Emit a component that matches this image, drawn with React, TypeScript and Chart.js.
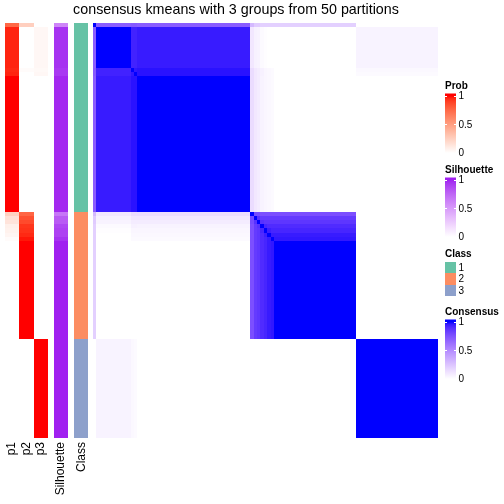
import React, { useEffect, useRef } from "react";
import { Chart, registerables } from "chart.js";

Chart.register(...registerables);

// ---------- DATA ----------
const TITLE = "consensus kmeans with 3 groups from 50 partitions";
// sample groups in display order (rows == columns)
const GROUP_NAMES = ["A0", "A1", "A2a", "A2b", "A3", "B0", "B1", "B2", "B3", "B4", "B5", "B6", "Bc", "C"];
const GROUP_SIZES = [1, 10, 1, 1, 33, 1, 1, 1, 1, 1, 1, 1, 24, 24];
const GROUP_CLASS = [1, 1, 1, 1, 1, 2, 2, 2, 2, 2, 2, 2, 2, 3];
const PROB_P1 = [0.75, 0.96, 0.95, 0.96, 1, 0.24, 0.16, 0.14, 0.08, 0.07, 0.05, 0.02, 0, 0];
const PROB_P2 = [0.25, 0, 0.02, 0, 0, 0.76, 0.84, 0.86, 0.92, 0.93, 0.95, 0.98, 1, 0];
const PROB_P3 = [0, 0.04, 0.03, 0.04, 0, 0, 0, 0, 0, 0, 0, 0, 0, 1];
const SILHOUETTE = [0.6, 0.95, 0.93, 0.93, 0.98, 0.68, 0.8, 0.8, 0.88, 0.9, 0.9, 0.95, 1, 1];
const CONSENSUS_A0 = [1, 0.7, 0.72, 0.72, 0.7, 0.3, 0.22, 0.22, 0.2, 0.2, 0.2, 0.2, 0.2, 0];
const CONSENSUS_A1 = [0.7, 1, 0.93, 0.93, 0.95, 0.1, 0.06, 0.05, 0.02, 0.01, 0, 0, 0, 0.05];
const CONSENSUS_A2a = [0.72, 0.93, 1, 0.96, 0.97, 0.15, 0.1, 0.08, 0.06, 0.04, 0.03, 0.02, 0, 0.03];
const CONSENSUS_A2b = [0.72, 0.93, 0.96, 1, 0.97, 0.15, 0.1, 0.08, 0.06, 0.04, 0.03, 0.02, 0, 0.02];
const CONSENSUS_A3 = [0.7, 0.95, 0.97, 0.97, 1, 0.15, 0.1, 0.08, 0.05, 0.04, 0.03, 0.02, 0, 0];
const CONSENSUS_B0 = [0.3, 0.1, 0.15, 0.15, 0.15, 1, 0.78, 0.78, 0.76, 0.76, 0.76, 0.76, 0.76, 0];
const CONSENSUS_B1 = [0.22, 0.06, 0.1, 0.1, 0.1, 0.78, 1, 0.88, 0.84, 0.84, 0.84, 0.84, 0.84, 0];
const CONSENSUS_B2 = [0.22, 0.05, 0.08, 0.08, 0.08, 0.78, 0.88, 1, 0.88, 0.86, 0.86, 0.86, 0.86, 0];
const CONSENSUS_B3 = [0.2, 0.02, 0.06, 0.06, 0.05, 0.76, 0.84, 0.88, 1, 0.92, 0.9, 0.9, 0.9, 0];
const CONSENSUS_B4 = [0.2, 0.01, 0.04, 0.04, 0.04, 0.76, 0.84, 0.86, 0.92, 1, 0.94, 0.92, 0.92, 0];
const CONSENSUS_B5 = [0.2, 0, 0.03, 0.03, 0.03, 0.76, 0.84, 0.86, 0.9, 0.94, 1, 0.95, 0.95, 0];
const CONSENSUS_B6 = [0.2, 0, 0.02, 0.02, 0.02, 0.76, 0.84, 0.86, 0.9, 0.92, 0.95, 1, 0.96, 0];
const CONSENSUS_Bc = [0.2, 0, 0, 0, 0, 0.76, 0.84, 0.86, 0.9, 0.92, 0.95, 0.96, 1, 0];
const CONSENSUS_C = [0, 0.05, 0.03, 0.02, 0, 0, 0, 0, 0, 0, 0, 0, 0, 1];
const CONSENSUS = [
  CONSENSUS_A0, CONSENSUS_A1, CONSENSUS_A2a, CONSENSUS_A2b, CONSENSUS_A3,
  CONSENSUS_B0, CONSENSUS_B1, CONSENSUS_B2, CONSENSUS_B3, CONSENSUS_B4,
  CONSENSUS_B5, CONSENSUS_B6, CONSENSUS_Bc, CONSENSUS_C,
];
const TRACK_LABELS = ["p1", "p2", "p3", "Silhouette", "Class"];
const CLASS_LABELS = ["1", "2", "3"];
const LEGEND_TICKS = ["1", "0.5", "0"];

// ---------- STYLE / LAYOUT ----------
const CLASS_COLORS = ["#66C2A5", "#FC8D62", "#8DA0CB"];
const FONT = '"Liberation Sans", Arial, Helvetica, sans-serif';
const W = 504;
const PAD = { left: 5, right: 66, top: 23, bottom: 66 };
const MATRIX_LEFT_PX = 93;
const TRACK_WIDTH_PX = 14.33;
const TRACK_STARTS = [0, 1, 2, 3.42, 4.82];
const LEGEND_X = 445;
const LEGEND_W = 11;

// ---------- LAB colour ramp (like colorRamp2) ----------
function hexToRgb(h: string) {
  const n = parseInt(h.slice(1), 16);
  return [(n >> 16) & 255, (n >> 8) & 255, n & 255];
}
function toLin(c: number) {
  c /= 255;
  return c <= 0.04045 ? c / 12.92 : Math.pow((c + 0.055) / 1.055, 2.4);
}
function fromLin(c: number) {
  c = Math.min(1, Math.max(0, c));
  const v = c <= 0.0031308 ? 12.92 * c : 1.055 * Math.pow(c, 1 / 2.4) - 0.055;
  return Math.round(Math.min(1, Math.max(0, v)) * 255);
}
const XN = 0.95047, YN = 1, ZN = 1.08883;
function f(t: number) {
  return t > 0.008856 ? Math.cbrt(t) : 7.787 * t + 16 / 116;
}
function finv(t: number) {
  const t3 = t * t * t;
  return t3 > 0.008856 ? t3 : (t - 16 / 116) / 7.787;
}
function rgbToLab(rgb: number[]) {
  const [r, g, b] = rgb.map(toLin);
  const X = 0.4124 * r + 0.3576 * g + 0.1805 * b;
  const Y = 0.2126 * r + 0.7152 * g + 0.0722 * b;
  const Z = 0.0193 * r + 0.1192 * g + 0.9505 * b;
  const fx = f(X / XN), fy = f(Y / YN), fz = f(Z / ZN);
  return [116 * fy - 16, 500 * (fx - fy), 200 * (fy - fz)];
}
function labToRgbStr(lab: number[]) {
  const fy = (lab[0] + 16) / 116;
  const fx = fy + lab[1] / 500;
  const fz = fy - lab[2] / 200;
  const X = finv(fx) * XN, Y = finv(fy) * YN, Z = finv(fz) * ZN;
  const r = 3.2406 * X - 1.5372 * Y - 0.4986 * Z;
  const g = -0.9689 * X + 1.8758 * Y + 0.0415 * Z;
  const b = 0.0557 * X - 0.204 * Y + 1.057 * Z;
  return `rgb(${fromLin(r)},${fromLin(g)},${fromLin(b)})`;
}
function ramp(hi: string) {
  const a = rgbToLab([255, 255, 255]);
  const b = rgbToLab(hexToRgb(hi));
  return (v: number) => {
    const t = Math.min(1, Math.max(0, v));
    return labToRgbStr([a[0] + (b[0] - a[0]) * t, a[1] + (b[1] - a[1]) * t, a[2] + (b[2] - a[2]) * t]);
  };
}
const probColor = ramp("#FF0000");
const silColor = ramp("#A020F0");
const consColor = ramp("#0000FF");

// ---------- build cells ----------
function buildCells() {
  const starts: number[] = [];
  let acc = 0;
  for (const s of GROUP_SIZES) {
    starts.push(acc);
    acc += s;
  }
  const matrix: any[] = [];
  for (let i = 0; i < GROUP_SIZES.length; i++) {
    for (let j = 0; j < GROUP_SIZES.length; j++) {
      const x0 = starts[j], x1 = starts[j] + GROUP_SIZES[j];
      const y0 = starts[i], y1 = starts[i] + GROUP_SIZES[i];
      matrix.push({ x: (x0 + x1) / 2, y: (y0 + y1) / 2, x0, x1, y0, y1, color: consColor(CONSENSUS[i][j]) });
    }
  }
  const ann: any[] = [];
  const trackColors = [
    (g: number) => probColor(PROB_P1[g]),
    (g: number) => probColor(PROB_P2[g]),
    (g: number) => probColor(PROB_P3[g]),
    (g: number) => silColor(SILHOUETTE[g]),
    (g: number) => CLASS_COLORS[GROUP_CLASS[g] - 1],
  ];
  trackColors.forEach((fn, k) => {
    for (let g = 0; g < GROUP_SIZES.length; g++) {
      const x0 = TRACK_STARTS[k], x1 = TRACK_STARTS[k] + 1;
      const y0 = starts[g], y1 = starts[g] + GROUP_SIZES[g];
      ann.push({ x: (x0 + x1) / 2, y: (y0 + y1) / 2, x0, x1, y0, y1, color: fn(g) });
    }
  });
  return { matrix, ann, n: acc };
}

function drawContinuousLegend(ctx: CanvasRenderingContext2D, title: string, T: number, colorFn: (v: number) => string) {
  ctx.fillStyle = "#000";
  ctx.font = `bold 10px ${FONT}`;
  ctx.textAlign = "left";
  ctx.textBaseline = "middle";
  ctx.fillText(title, LEGEND_X, T);
  const barTop = T + 7.5;
  const barBottom = T + 67;
  const y1 = T + 9.7;
  const yOf = (v: number) => barBottom - (barBottom - y1) * v;
  const grad = ctx.createLinearGradient(0, barTop, 0, barBottom);
  grad.addColorStop(0, colorFn(1));
  for (let k = 0; k <= 20; k++) {
    const v = k / 20;
    grad.addColorStop((yOf(v) - barTop) / (barBottom - barTop), colorFn(v));
  }
  ctx.fillStyle = grad;
  ctx.fillRect(LEGEND_X, barTop, LEGEND_W, barBottom - barTop);
  ctx.strokeStyle = "#fff";
  ctx.lineWidth = 1;
  [1, 0.5].forEach((v) => {
    const y = Math.round(yOf(v)) + 0.5;
    ctx.beginPath();
    ctx.moveTo(LEGEND_X, y);
    ctx.lineTo(LEGEND_X + 2, y);
    ctx.moveTo(LEGEND_X + LEGEND_W - 2, y);
    ctx.lineTo(LEGEND_X + LEGEND_W, y);
    ctx.stroke();
  });
  ctx.fillStyle = "#000";
  ctx.font = `10px ${FONT}`;
  [1, 0.5, 0].forEach((v, i) => {
    ctx.fillText(LEGEND_TICKS[i], LEGEND_X + LEGEND_W + 2.5, yOf(v) + 0.5);
  });
}

const heatPlugin = {
  id: "heatCells",
  beforeDatasetsDraw(chart: any) {
    const ctx: CanvasRenderingContext2D = chart.ctx;
    const ys = chart.scales.y;
    ctx.save();
    chart.data.datasets.forEach((ds: any) => {
      const xs = chart.scales[ds.xAxisID];
      ds.data.forEach((c: any) => {
        const px0 = Math.round(xs.getPixelForValue(c.x0));
        const px1 = Math.round(xs.getPixelForValue(c.x1));
        const py0 = Math.round(ys.getPixelForValue(c.y0));
        const py1 = Math.round(ys.getPixelForValue(c.y1));
        ctx.fillStyle = c.color;
        ctx.fillRect(Math.min(px0, px1), Math.min(py0, py1), Math.abs(px1 - px0), Math.abs(py1 - py0));
      });
    });
    ctx.restore();
  },
  afterDraw(chart: any) {
    const ctx: CanvasRenderingContext2D = chart.ctx;
    const xa = chart.scales.xa;
    const bottom = chart.chartArea.bottom;
    ctx.save();
    // title
    ctx.fillStyle = "#000";
    ctx.font = `14.3px ${FONT}`;
    ctx.textAlign = "center";
    ctx.textBaseline = "middle";
    ctx.fillText(TITLE, 236, 10);
    // track labels (rotated)
    ctx.font = `12px ${FONT}`;
    TRACK_LABELS.forEach((lab, k) => {
      const cx = xa.getPixelForValue(TRACK_STARTS[k] + 0.5);
      ctx.save();
      ctx.translate(cx, bottom + 4);
      ctx.rotate(-Math.PI / 2);
      ctx.textAlign = "right";
      ctx.textBaseline = "middle";
      ctx.fillText(lab, 0, 0);
      ctx.restore();
    });
    // legends
    drawContinuousLegend(ctx, "Prob", 86, probColor);
    drawContinuousLegend(ctx, "Silhouette", 170, silColor);
    // class legend
    ctx.fillStyle = "#000";
    ctx.font = `bold 10px ${FONT}`;
    ctx.textAlign = "left";
    ctx.textBaseline = "middle";
    ctx.fillText("Class", LEGEND_X, 254);
    const sq = 11.3;
    CLASS_LABELS.forEach((lab, i) => {
      const top = 262 + i * sq;
      ctx.fillStyle = CLASS_COLORS[i];
      ctx.fillRect(LEGEND_X, Math.round(top), LEGEND_W, Math.round(top + sq) - Math.round(top));
      ctx.fillStyle = "#000";
      ctx.font = `10px ${FONT}`;
      ctx.fillText(lab, LEGEND_X + LEGEND_W + 2.5, top + sq / 2 + 0.5);
    });
    drawContinuousLegend(ctx, "Consensus", 312, consColor);
    ctx.restore();
  },
};

export default function App() {
  const ref = useRef<HTMLCanvasElement | null>(null);
  useEffect(() => {
    if (!ref.current) return;
    const { matrix, ann, n } = buildCells();
    const areaW = W - PAD.left - PAD.right;
    const unitPx = (W - PAD.right - MATRIX_LEFT_PX) / n;
    const chart = new Chart(ref.current, {
      type: "scatter",
      data: {
        datasets: [
          { label: "consensus", data: matrix, xAxisID: "x", yAxisID: "y", pointRadius: 0 } as any,
          { label: "annotations", data: ann, xAxisID: "xa", yAxisID: "y", pointRadius: 0 } as any,
        ],
      },
      options: {
        animation: false,
        responsive: false,
        events: [],
        layout: { padding: PAD },
        plugins: { legend: { display: false }, tooltip: { enabled: false }, title: { display: false } },
        scales: {
          x: { type: "linear", min: -(MATRIX_LEFT_PX - PAD.left) / unitPx, max: n, display: false },
          xa: { type: "linear", axis: "x", position: "bottom", min: 0, max: areaW / TRACK_WIDTH_PX, display: false },
          y: { type: "linear", min: 0, max: n, reverse: true, display: false },
        },
      } as any,
      plugins: [heatPlugin],
    });
    return () => chart.destroy();
  }, []);
  return (
    <div style={{ position: "fixed", left: 0, top: 0, width: W, height: W, background: "#fff" }}>
      <canvas ref={ref} width={W} height={W} style={{ display: "block" }} />
    </div>
  );
}
